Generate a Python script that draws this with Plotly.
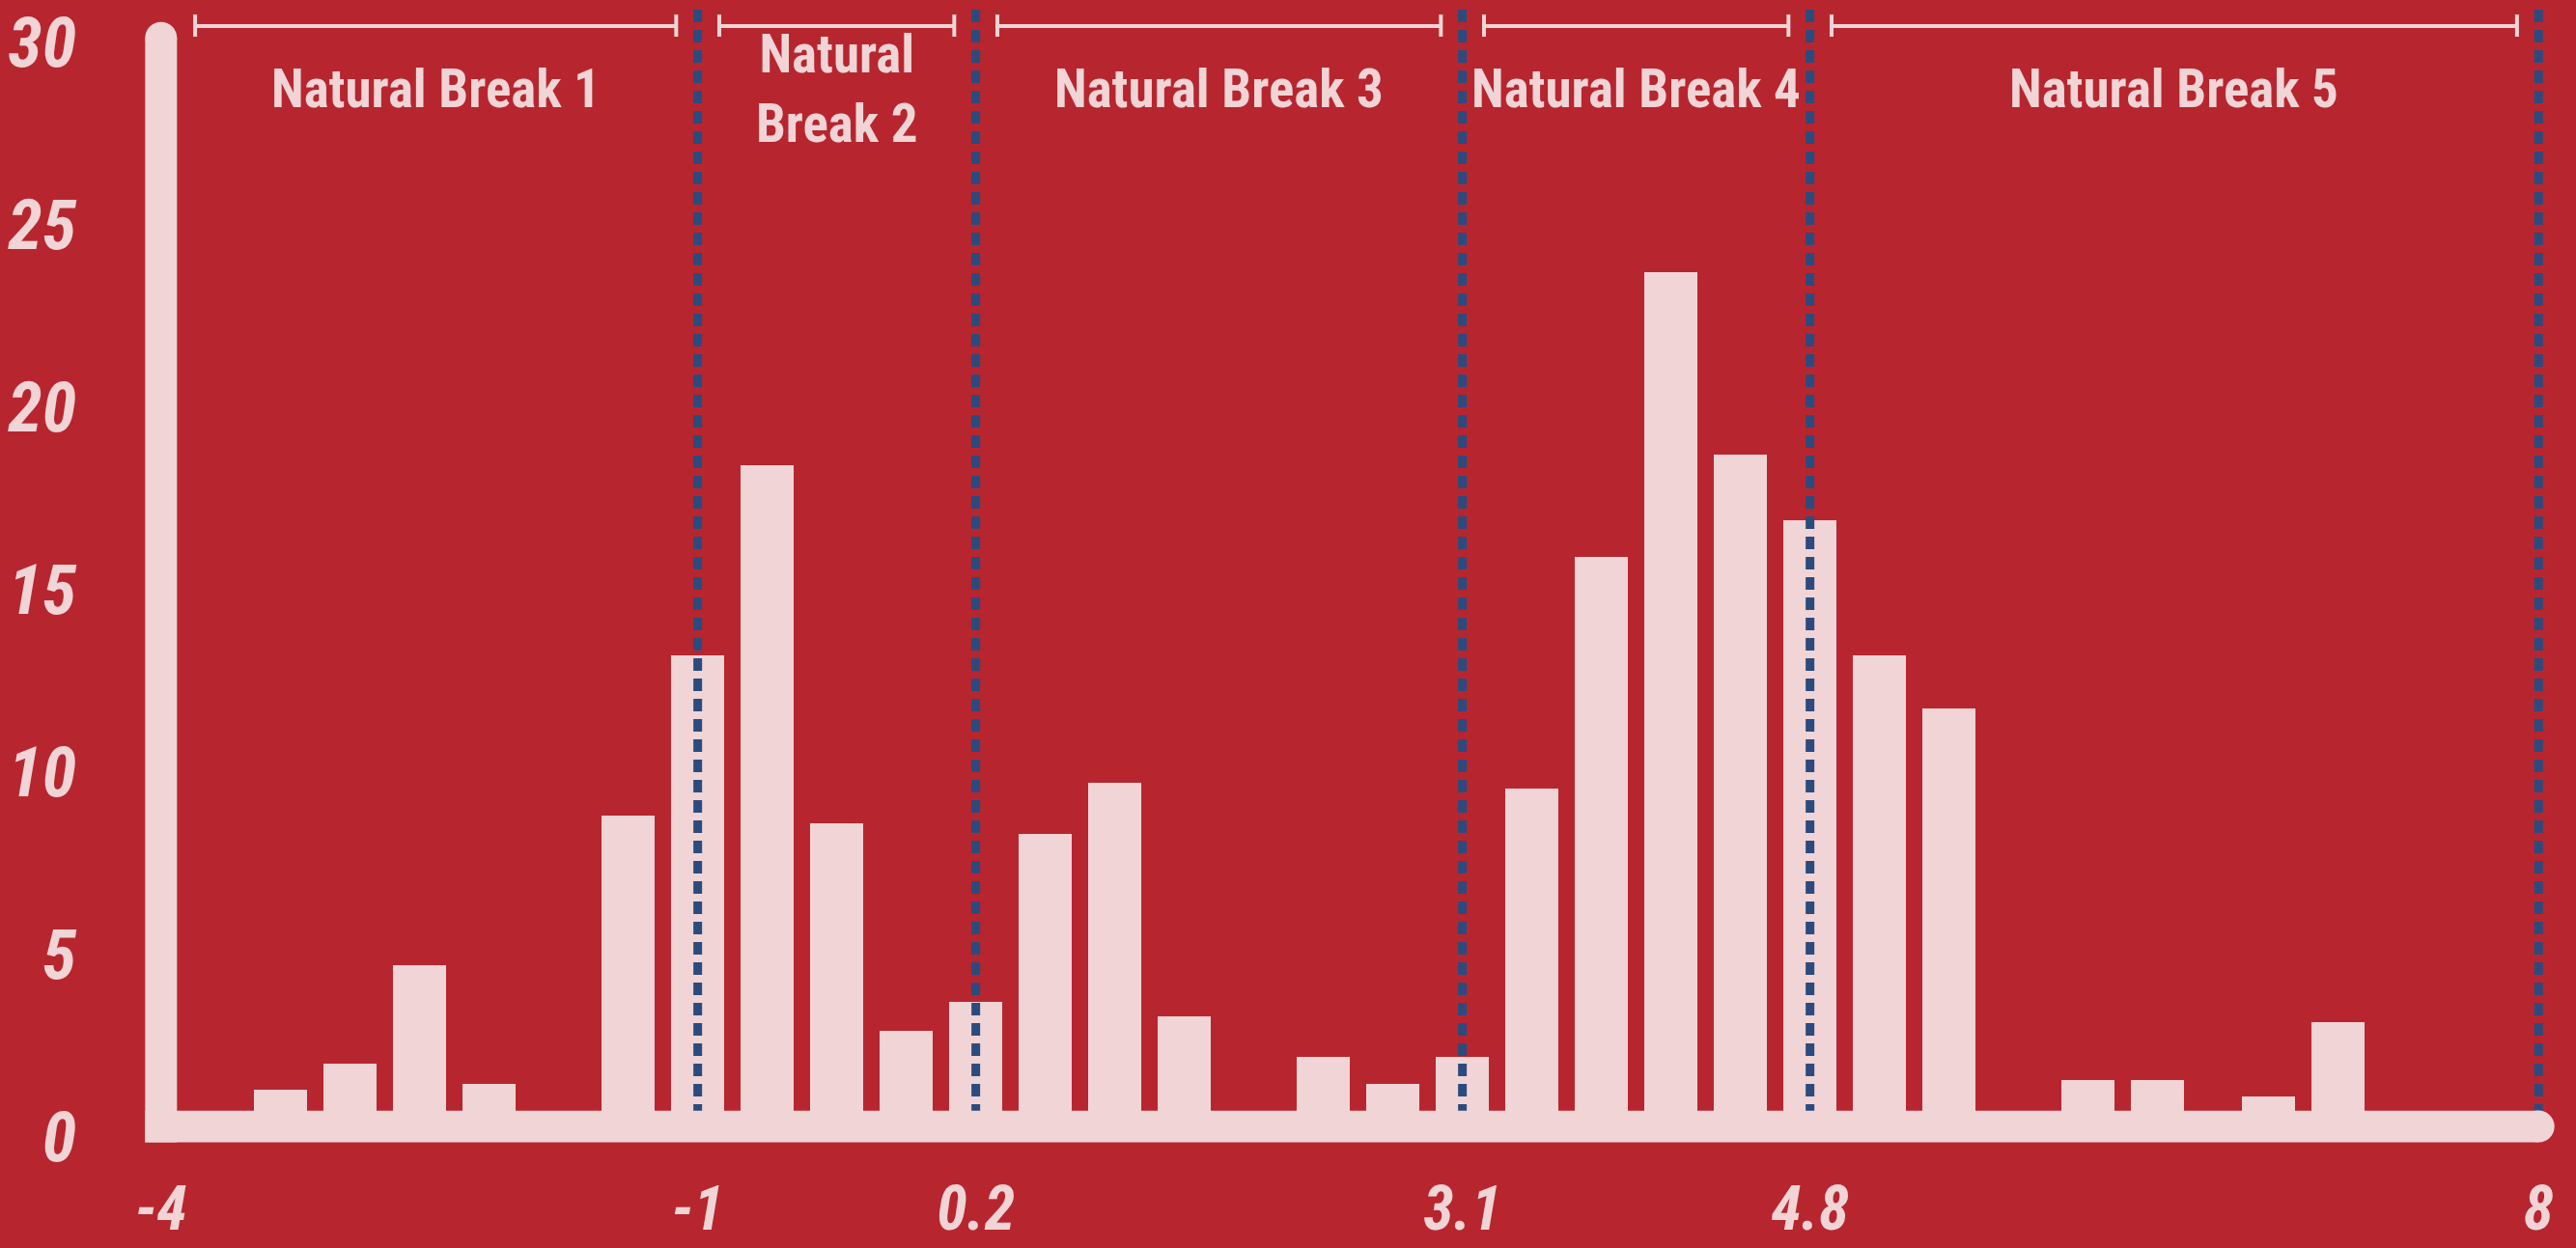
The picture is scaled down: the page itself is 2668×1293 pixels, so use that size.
import plotly.graph_objects as go

# ---------------- data ----------------
bin_pos = [0, 1, 2, 3, 5, 6, 7, 8, 9, 10, 11, 12, 13, 15, 16, 17, 18, 19, 20,
           21, 22, 23, 24, 26, 27, 28.6, 29.6]
counts = [1.3, 2.0, 4.7, 1.45, 8.8, 13.2, 18.4, 8.6, 2.9, 3.7, 8.3, 9.7, 3.3,
          2.2, 1.45, 2.2, 9.55, 15.9, 23.7, 18.7, 16.9, 13.2, 11.75, 1.55,
          1.55, 1.1, 3.15]

break_pos = [-1.72, 6, 10, 17, 22, 32.48]
break_labels = ["-4", "-1", "0.2", "3.1", "4.8", "8"]
group_names = ["Natural Break 1", "Natural<br>Break 2", "Natural Break 3",
               "Natural Break 4", "Natural Break 5"]
y_ticks = [0, 5, 10, 15, 20, 25, 30]

# ---------------- style ----------------
W, H = 2668, 1293
BG = "#B7262F"
PINK = "#F0D4D6"
NAVY = "#2B4B7E"
FONT = "Liberation Sans Narrow, Roboto Condensed, DejaVu Sans Condensed, Roboto, sans-serif"

ML, MB = 80, 84
PXX = 72.0        # pixels per x unit
X0PX = 290.65     # pixel of x = 0
PXY = 37.82       # pixels per y unit
Y0PX = 1178.0     # pixel of y = 0
plot_bottom = H - MB

xr = [(ML - X0PX) / PXX, (W - X0PX) / PXX]
yr = [-(plot_bottom - Y0PX) / PXY, Y0PX / PXY]

def px_y(p):
    return (Y0PX - p) / PXY

fig = go.Figure()
fig.add_trace(go.Bar(
    x=bin_pos, y=counts, width=55 / PXX,
    marker=dict(color=PINK, line=dict(width=0)),
    hoverinfo="skip", showlegend=False,
))

shapes = []
half = 16.5
axis_x = break_pos[0]
base_y0, base_y1 = px_y(1183.5), px_y(1150.7)
base_mid = (base_y0 + base_y1) / 2
top_cap = px_y(39.2)

# dotted break lines (under the baseline)
for b in break_pos[1:]:
    shapes.append(dict(type="line", xref="x", yref="y", x0=b, x1=b,
                       y0=0, y1=px_y(9), layer="above",
                       line=dict(color=NAVY, width=9, dash="13px,8px")))

# y-axis bar with round top
shapes.append(dict(type="rect", xref="x", yref="y",
                   x0=axis_x - half / PXX, x1=axis_x + half / PXX,
                   y0=base_y0, y1=top_cap, layer="above",
                   fillcolor=PINK, line=dict(width=0)))
shapes.append(dict(type="circle", xref="x", yref="y",
                   xsizemode="pixel", ysizemode="pixel",
                   xanchor=axis_x, yanchor=top_cap,
                   x0=-half, x1=half, y0=-half, y1=half, layer="above",
                   fillcolor=PINK, line=dict(width=0)))
# baseline with round right end
shapes.append(dict(type="rect", xref="x", yref="y",
                   x0=axis_x - half / PXX, x1=break_pos[-1],
                   y0=base_y0, y1=base_y1, layer="above",
                   fillcolor=PINK, line=dict(width=0)))
shapes.append(dict(type="circle", xref="x", yref="y",
                   xsizemode="pixel", ysizemode="pixel",
                   xanchor=break_pos[-1], yanchor=base_mid,
                   x0=-half, x1=half, y0=-half, y1=half, layer="above",
                   fillcolor=PINK, line=dict(width=0)))

# brackets + group labels
br_y = px_y(27)
tick_top, tick_bot = px_y(15), px_y(38)
annotations = []
for i, name in enumerate(group_names):
    pad_l = 0.49 if i == 0 else 0.31
    left = break_pos[i] + pad_l
    right = break_pos[i + 1] - 0.31
    shapes.append(dict(type="line", xref="x", yref="y", x0=left, x1=right,
                       y0=br_y, y1=br_y, layer="above",
                       line=dict(color=PINK, width=4)))
    for xx in (left, right):
        shapes.append(dict(type="line", xref="x", yref="y", x0=xx, x1=xx,
                           y0=tick_bot, y1=tick_top, layer="above",
                           line=dict(color=PINK, width=4)))
    annotations.append(dict(x=(left + right) / 2, y=px_y(92), xref="x", yref="y",
                            text=name, showarrow=False, xanchor="center",
                            yanchor="middle", align="center",
                            font=dict(family=FONT, size=55, color=PINK,
                                      weight="bold")))

ytickfont = dict(family=FONT, size=72, color=PINK, weight="bold", style="italic")
xtickfont = dict(family=FONT, size=64, color=PINK, weight="bold", style="italic")

fig.update_layout(
    width=W, height=H,
    margin=dict(l=ML, r=0, t=0, b=MB, pad=0, autoexpand=False),
    paper_bgcolor=BG, plot_bgcolor=BG,
    bargap=0,
    shapes=shapes, annotations=annotations,
    xaxis=dict(range=xr, showgrid=False, zeroline=False, showline=False,
               automargin=False,
               tickmode="array", tickvals=break_pos, ticktext=break_labels,
               ticks="", tickfont=xtickfont, fixedrange=True),
    yaxis=dict(range=yr, showgrid=False, zeroline=False, showline=False,
               automargin=False,
               tickmode="array", tickvals=y_ticks,
               ticktext=[str(v) for v in y_ticks],
               ticks="", tickfont=ytickfont, fixedrange=True),
)

fig.write_html("out.html", config={"displayModeBar": False},
               post_script="document.body.style.margin='0';document.body.style.overflow='hidden';")
